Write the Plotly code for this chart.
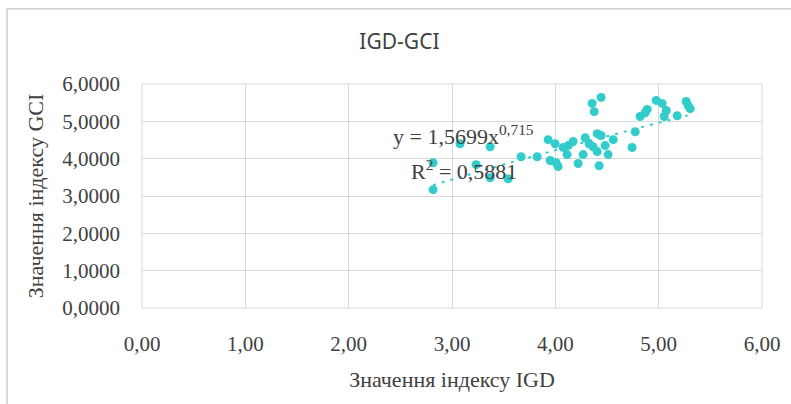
import numpy as np
import plotly.graph_objects as go

# IGD index values (x) and GCI index values (y) for each country
igd = [2.817, 2.817, 3.078, 3.369, 3.233, 3.369, 3.543, 3.669, 3.824, 3.930,
       3.998, 3.950, 4.008, 4.027, 4.076, 4.124, 4.172, 4.114, 4.221, 4.269,
       4.289, 4.327, 4.366, 4.405, 4.443, 4.405, 4.424, 4.482, 4.511, 4.560,
       4.743, 4.773, 4.356, 4.443, 4.376, 4.821, 4.869, 4.889, 4.976, 5.034,
       5.073, 5.053, 5.179, 5.266, 5.286, 5.305]
gci = [3.17, 3.89, 4.40, 4.32, 3.84, 3.49, 3.46, 4.05, 4.05, 4.51,
       4.40, 3.95, 3.89, 3.79, 4.30, 4.35, 4.46, 4.11, 3.87, 4.11,
       4.56, 4.40, 4.32, 4.67, 4.62, 4.19, 3.81, 4.35, 4.11, 4.51,
       4.30, 4.72, 5.48, 5.64, 5.26, 5.13, 5.23, 5.32, 5.56, 5.48,
       5.29, 5.13, 5.15, 5.53, 5.42, 5.34]

# Power trendline y = a * x^b
coef_a = 1.5699
coef_b = 0.715
r_squared = 0.5881

x_ticks = [0, 1, 2, 3, 4, 5, 6]
x_tick_text = ["0,00", "1,00", "2,00", "3,00", "4,00", "5,00", "6,00"]
y_ticks = [0, 1, 2, 3, 4, 5, 6]
y_tick_text = ["0,0000", "1,0000", "2,0000", "3,0000", "4,0000", "5,0000", "6,0000"]

teal = "#33CCCC"
grid = "#D9D9D9"
text_col = "#404040"
serif = "Liberation Serif, Times New Roman, serif"

def fmt(v, digits):
    return f"{v:.{digits}f}".replace(".", ",")

trend_x = np.linspace(min(igd), max(igd), 200)
trend_y = coef_a * trend_x ** coef_b

fig = go.Figure()
fig.add_trace(go.Scatter(
    x=igd, y=gci, mode="markers",
    marker=dict(color=teal, size=9, line=dict(width=0)),
    showlegend=False, hoverinfo="x+y",
))
fig.add_trace(go.Scatter(
    x=trend_x, y=trend_y, mode="lines",
    line=dict(color=teal, width=2, dash="3px,6px"),
    showlegend=False, hoverinfo="skip",
))

fig.update_layout(
    width=791, height=404,
    margin=dict(l=142, r=29, t=84, b=96),
    paper_bgcolor="white", plot_bgcolor="white",
    title=dict(text="IGD-GCI", x=0.505, xanchor="center", y=0.897, yanchor="middle",
               font=dict(family="Noto Sans, sans-serif", size=21, color=text_col)),
    xaxis=dict(
        range=[0, 6], tickvals=x_ticks, ticktext=x_tick_text,
        showgrid=True, gridcolor=grid, gridwidth=1,
        zeroline=False, showline=False, ticks="",
        ticklabelstandoff=21,
        tickfont=dict(family=serif, size=21, color=text_col),
        title=dict(text="Значення індексу IGD", standoff=16,
                   font=dict(family=serif, size=22, color=text_col)),
        fixedrange=True,
    ),
    yaxis=dict(
        range=[0, 6], tickvals=y_ticks, ticktext=y_tick_text,
        showgrid=True, gridcolor=grid, gridwidth=1,
        zeroline=False, showline=False, ticks="",
        ticklabelstandoff=21,
        tickfont=dict(family=serif, size=21, color=text_col),
        title=dict(text="Значення індексу GCI", standoff=12,
                   font=dict(family=serif, size=22, color=text_col)),
        fixedrange=True,
    ),
    shapes=[
        # plot area frame (grid at edges)
        dict(type="rect", xref="paper", yref="paper", x0=0, y0=0, x1=1, y1=1,
             line=dict(color=grid, width=1), layer="below"),
        # outer chart border
        dict(type="rect", xref="paper", yref="paper",
             x0=-0.2177, y0=-0.46, x1=1.06, y1=1.3356,
             line=dict(color="#CFCFCF", width=1.5)),
    ],
    annotations=[
        dict(x=3.116, y=4.64, xref="x", yref="y", showarrow=False,
             text=f"y = {fmt(coef_a, 4)}x<sup>{fmt(coef_b, 3)}</sup>",
             xanchor="center", yanchor="middle",
             font=dict(family=serif, size=22, color=text_col)),
        dict(x=3.116, y=3.70, xref="x", yref="y", showarrow=False,
             text=f"R<sup>2</sup> = {fmt(r_squared, 4)}",
             xanchor="center", yanchor="middle",
             font=dict(family=serif, size=22, color=text_col)),
    ],
)

fig.write_html("out.html")
